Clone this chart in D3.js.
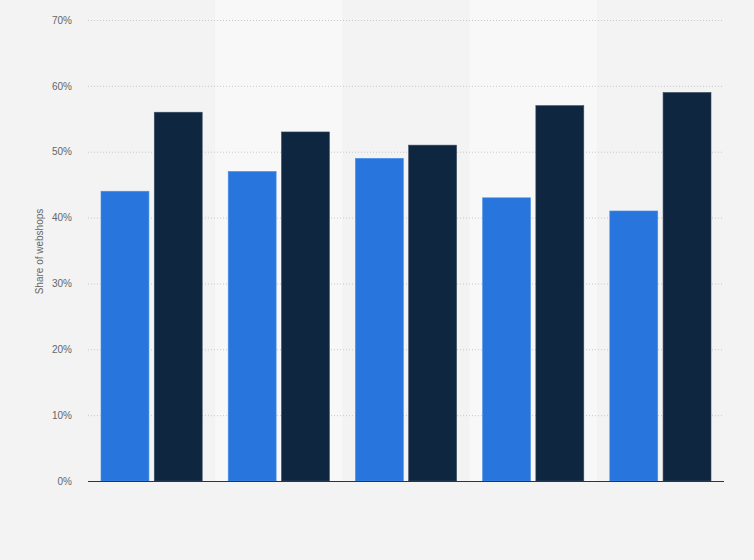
<!DOCTYPE html>
<html><head><meta charset="utf-8">
<script src="https://cdn.jsdelivr.net/npm/d3@7"></script>
<style>body{margin:0;background:#f3f3f3;}svg{display:block;font-family:Arial,"Liberation Sans",sans-serif;}</style>
</head><body>
<svg id="c" width="754" height="560"></svg>
<script>
const categories = ["1","2","3","4","5"];
const seriesA = [44, 47, 49, 43, 41];
const seriesB = [56, 53, 51, 57, 59];
const yTicks = [0,10,20,30,40,50,60,70];
const yLabel = "Share of webshops";

const svg = d3.select("#c");
const m = {l:88, r:754-724, t:20, b:560-481};
const W = 754, H = 560;
svg.append("rect").attr("width",W).attr("height",H).attr("fill","#f3f3f3");

const x = d3.scaleBand().domain(categories).range([m.l, W-m.r]).paddingInner(0).paddingOuter(0);
const y = d3.scaleLinear().domain([0,70]).range([H-m.b, m.t]);

// alternating bands
svg.append("g").selectAll("rect").data(categories.filter((d,i)=>i%2===1)).join("rect")
  .attr("x", d=>x(d)).attr("y", 0).attr("width", x.bandwidth()).attr("height", H-m.b)
  .attr("fill","#f8f8f8");

// grid
svg.append("g").selectAll("line").data(yTicks.filter(t=>t>0)).join("line")
  .attr("x1", m.l).attr("x2", W-m.r).attr("y1", d=>y(d)+0.5).attr("y2", d=>y(d)+0.5)
  .attr("stroke","#c8c8c8").attr("stroke-width",1).attr("stroke-dasharray","1,2");

// y axis labels
const yAxis = d3.axisLeft(y).tickValues(yTicks).tickFormat(d=>d+"%").tickSize(0).tickPadding(0);
const gy = svg.append("g").attr("transform",`translate(${m.l-16},0)`).call(yAxis);
gy.select(".domain").remove();
gy.selectAll("text").attr("fill","#666").attr("font-size","10px");

svg.append("text").attr("transform",`translate(43,${(m.t+H-m.b)/2+1}) rotate(-90)`)
  .attr("text-anchor","middle").attr("fill","#666").attr("font-size","10px").text(yLabel);

// bars
const sub = d3.scaleBand().domain([0,1]).range([13, x.bandwidth()-13]).paddingInner(0.1);
const data = categories.map((c,i)=>({c, vals:[seriesA[i], seriesB[i]]}));
const colors = ["#2876dd","#0f2640"];
const g = svg.append("g").selectAll("g").data(data).join("g").attr("transform",d=>`translate(${x(d.c)},0)`);
g.selectAll("rect").data(d=>d.vals.map((v,k)=>({v,k}))).join("rect")
  .attr("x", d=>sub(d.k)).attr("width", sub.bandwidth())
  .attr("y", d=>y(d.v)).attr("height", d=>y(0)-y(d.v))
  .attr("fill", d=>colors[d.k]).attr("stroke", d=>d.k===0?"#4a8ee6":"#3a4d63").attr("stroke-width",0.6);

// baseline
svg.append("line").attr("x1",m.l).attr("x2",W-m.r).attr("y1",y(0)+0.5).attr("y2",y(0)+0.5)
  .attr("stroke","#333").attr("stroke-width",1);
</script>
</body></html>
